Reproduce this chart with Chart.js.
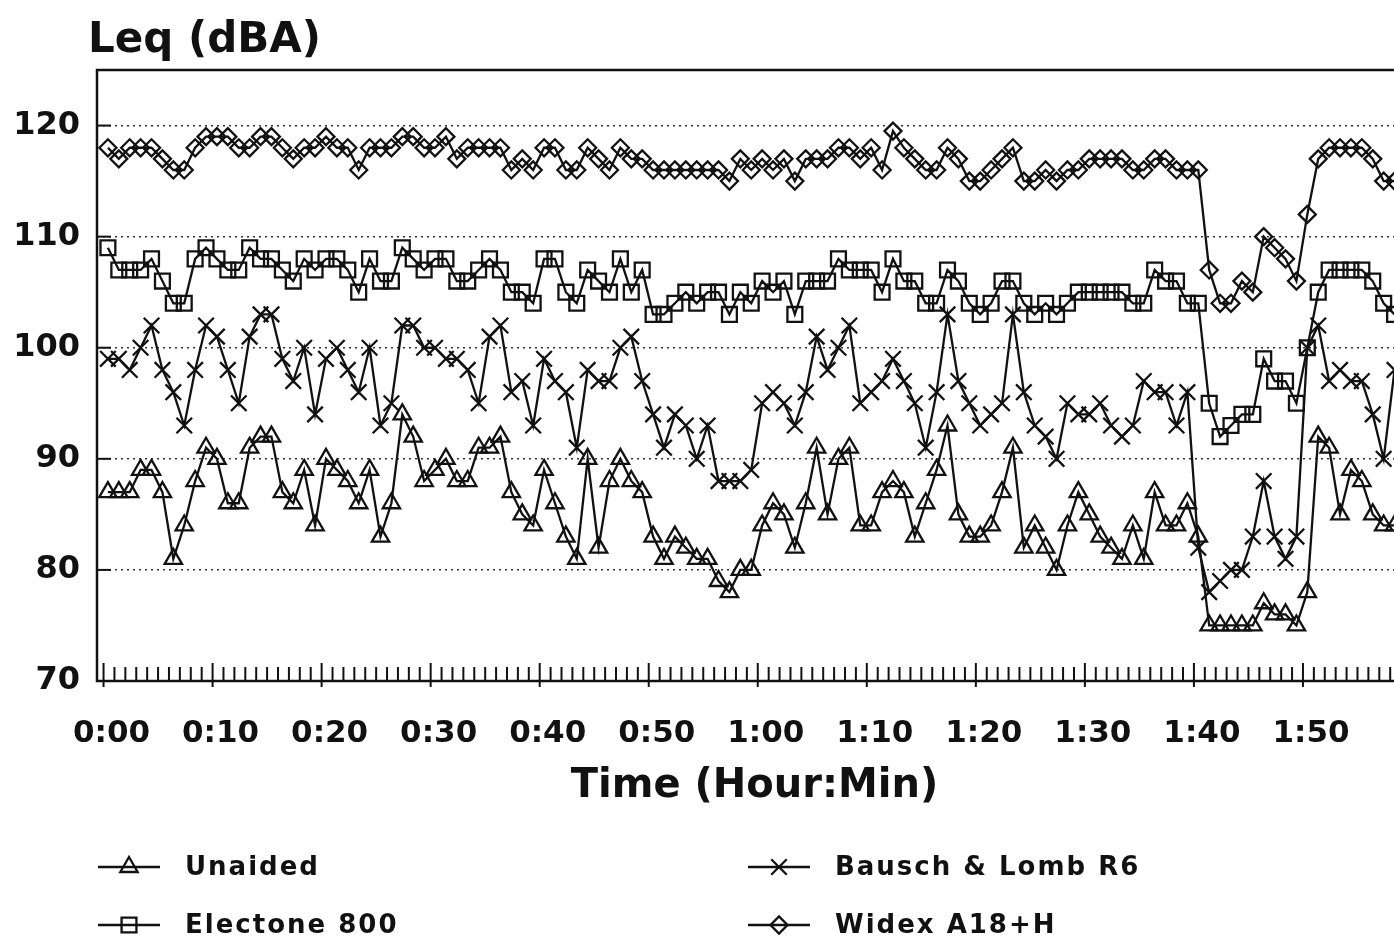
<!DOCTYPE html>
<html>
<head>
<meta charset="utf-8">
<title>Leq (dBA)</title>
<script src="https://cdn.jsdelivr.net/npm/chart.js@4.4.1/dist/chart.umd.min.js"></script>
<style>
  html, body { margin: 0; padding: 0; background: #fff; overflow: hidden; }
  #wrap { width: 1430px; height: 941px; }
</style>
</head>
<body>
<div id="wrap"><canvas id="leq" width="1430" height="941"></canvas></div>
<script>
// one Leq reading per minute, dBA
const unaided = [
  87, 87, 87, 89, 89, 87, 81, 84, 88, 91, 90, 86, 86, 91, 92, 92, 87, 86, 89,
  84, 90, 89, 88, 86, 89, 83, 86, 94, 92, 88, 89, 90, 88, 88, 91, 91, 92, 87, 85,
  84, 89, 86, 83, 81, 90, 82, 88, 90, 88, 87, 83, 81, 83, 82, 81, 81, 79, 78, 80,
  80, 84, 86, 85, 82, 86, 91, 85, 90, 91, 84, 84, 87, 88, 87, 83, 86, 89, 93, 85,
  83, 83, 84, 87, 91, 82, 84, 82, 80, 84, 87, 85, 83, 82, 81, 84, 81, 87, 84, 84,
  86, 83, 75, 75, 75, 75, 75, 77, 76, 76, 75, 78, 92, 91, 85, 89, 88, 85, 84, 84
];
const electone = [
  109, 107, 107, 107, 108, 106, 104, 104, 108, 109, 108, 107, 107, 109, 108, 108, 107, 106, 108,
  107, 108, 108, 107, 105, 108, 106, 106, 109, 108, 107, 108, 108, 106, 106, 107, 108, 107, 105, 105,
  104, 108, 108, 105, 104, 107, 106, 105, 108, 105, 107, 103, 103, 104, 105, 104, 105, 105, 103, 105,
  104, 106, 105, 106, 103, 106, 106, 106, 108, 107, 107, 107, 105, 108, 106, 106, 104, 104, 107, 106,
  104, 103, 104, 106, 106, 104, 103, 104, 103, 104, 105, 105, 105, 105, 105, 104, 104, 107, 106, 106,
  104, 104, 95, 92, 93, 94, 94, 99, 97, 97, 95, 100, 105, 107, 107, 107, 107, 106, 104, 103
];
const bausch = [
  99, 99, 98, 100, 102, 98, 96, 93, 98, 102, 101, 98, 95, 101, 103, 103, 99, 97, 100,
  94, 99, 100, 98, 96, 100, 93, 95, 102, 102, 100, 100, 99, 99, 98, 95, 101, 102, 96, 97,
  93, 99, 97, 96, 91, 98, 97, 97, 100, 101, 97, 94, 91, 94, 93, 90, 93, 88, 88, 88,
  89, 95, 96, 95, 93, 96, 101, 98, 100, 102, 95, 96, 97, 99, 97, 95, 91, 96, 103, 97,
  95, 93, 94, 95, 103, 96, 93, 92, 90, 95, 94, 94, 95, 93, 92, 93, 97, 96, 96, 93,
  96, 82, 78, 79, 80, 80, 83, 88, 83, 81, 83, 100, 102, 97, 98, 97, 97, 94, 90, 98
];
const widex = [
  118, 117, 118, 118, 118, 117, 116, 116, 118, 119, 119, 119, 118, 118, 119, 119, 118, 117, 118,
  118, 119, 118, 118, 116, 118, 118, 118, 119, 119, 118, 118, 119, 117, 118, 118, 118, 118, 116, 117,
  116, 118, 118, 116, 116, 118, 117, 116, 118, 117, 117, 116, 116, 116, 116, 116, 116, 116, 115, 117,
  116, 117, 116, 117, 115, 117, 117, 117, 118, 118, 117, 118, 116, 119.5, 118, 117, 116, 116, 118, 117,
  115, 115, 116, 117, 118, 115, 115, 116, 115, 116, 116, 117, 117, 117, 117, 116, 116, 117, 117, 116,
  116, 116, 107, 104, 104, 106, 105, 110, 109, 108, 106, 112, 117, 118, 118, 118, 118, 117, 115, 115
];
const seriesNames = ['Unaided', 'Electone 800', 'Bausch & Lomb R6', 'Widex A18+H'];
const yTickValues = [70, 80, 90, 100, 110, 120];
const xTickValues = [0, 10, 20, 30, 40, 50, 60, 70, 80, 90, 100, 110];

// sample times in minutes from the start of the run
const minutes = unaided.map((_, i) => i + 0.4);

const FONT = "'DejaVu Sans', 'Liberation Sans', sans-serif";
const INK = '#111';

function hm(v) {
  const m = Math.round(v);
  return Math.floor(m / 60) + ':' + String(m % 60).padStart(2, '0');
}

function series(label, values, style, radius) {
  return {
    label: label,
    data: values.map((v, i) => ({ x: minutes[i], y: v })),
    borderColor: INK,
    borderWidth: 2.3,
    pointStyle: style,
    pointRadius: radius,
    pointBorderColor: INK,
    pointBackgroundColor: 'rgba(0,0,0,0)',
    pointBorderWidth: 2.3,
    tension: 0,
    fill: false
  };
}

// outer frame, inward tick marks, heading and the line+marker key
const decorations = {
  id: 'decorations',
  afterDatasetsDraw(chart) {
    const { ctx, chartArea: a, scales } = chart;
    ctx.save();
    ctx.strokeStyle = INK;
    ctx.lineWidth = 2.5;
    ctx.strokeRect(a.left, a.top, a.right - a.left, a.bottom - a.top);

    ctx.lineWidth = 2;
    yTickValues.forEach(v => {
      const y = scales.y.getPixelForValue(v);
      ctx.beginPath();
      ctx.moveTo(a.left, y);
      ctx.lineTo(a.left + 14, y);
      ctx.stroke();
    });
    for (let m = 0; m <= 120; m++) {
      const x = scales.x.getPixelForValue(m);
      const len = m % 10 === 0 ? 18 : 14;
      ctx.beginPath();
      ctx.moveTo(x, a.bottom + (m % 10 === 0 ? 6 : 0));
      ctx.lineTo(x, a.bottom - len);
      ctx.stroke();
    }

    ctx.fillStyle = INK;
    ctx.font = 'bold 42px ' + FONT;
    ctx.textBaseline = 'alphabetic';
    ctx.textAlign = 'left';
    ctx.fillText('Leq (dBA)', a.left - 9, a.top - 18);

    ctx.font = 'bold 26px ' + FONT;
    ctx.letterSpacing = '2px';
    ctx.textBaseline = 'middle';
    chart.data.datasets.forEach((ds, i) => {
      const col = Math.floor(i / 2);
      const row = i % 2;
      const x0 = a.left + 1 + col * 650;
      const y = 867 + row * 58;
      ctx.lineWidth = 2.3;
      ctx.beginPath();
      ctx.moveTo(x0, y);
      ctx.lineTo(x0 + 62, y);
      ctx.stroke();
      ctx.fillStyle = 'rgba(0,0,0,0)';
      Chart.helpers.drawPoint(ctx, {
        pointStyle: ds.pointStyle,
        radius: ds.pointRadius,
        borderWidth: 2.3,
        rotation: 0
      }, x0 + 31, y);
      ctx.fillStyle = INK;
      ctx.fillText(ds.label, x0 + 87, y + 1);
    });
    ctx.restore();
  }
};

new Chart(document.getElementById('leq'), {
  type: 'line',
  data: {
    datasets: [
      series(seriesNames[0], unaided, 'triangle', 10),
      series(seriesNames[1], electone, 'rect', 10.5),
      series(seriesNames[2], bausch, 'crossRot', 11),
      series(seriesNames[3], widex, 'rectRot', 8.5)
    ]
  },
  options: {
    responsive: false,
    animation: false,
    layout: { padding: { top: 70, left: 0, right: 18, bottom: 120 } },
    plugins: {
      legend: { display: false },
      tooltip: { enabled: false }
    },
    scales: {
      x: {
        type: 'linear',
        min: -0.6,
        max: 120,
        afterFit(s) { s.height = 140; },
        afterBuildTicks(s) { s.ticks = xTickValues.map(v => ({ value: v })); },
        grid: { display: false },
        border: { display: false },
        ticks: {
          color: INK,
          font: { family: FONT, size: 31, weight: 'bold' },
          padding: 26,
          labelOffset: 8,
          maxRotation: 0,
          autoSkip: false,
          callback: v => hm(v)
        },
        title: {
          display: true,
          text: 'Time (Hour:Min)',
          color: INK,
          font: { family: FONT, size: 40, weight: 'bold' },
          padding: { top: 0, bottom: 10 }
        }
      },
      y: {
        min: 70,
        max: 125,
        afterFit(s) { s.width = 97; },
        afterBuildTicks(s) { s.ticks = yTickValues.map(v => ({ value: v })); },
        grid: { color: '#333', lineWidth: 1.5, drawTicks: false },
        border: { display: false, dash: [2, 4] },
        ticks: {
          color: INK,
          font: { family: FONT, size: 32, weight: 'bold' },
          padding: 17
        }
      }
    }
  },
  plugins: [decorations]
});
</script>
</body>
</html>
